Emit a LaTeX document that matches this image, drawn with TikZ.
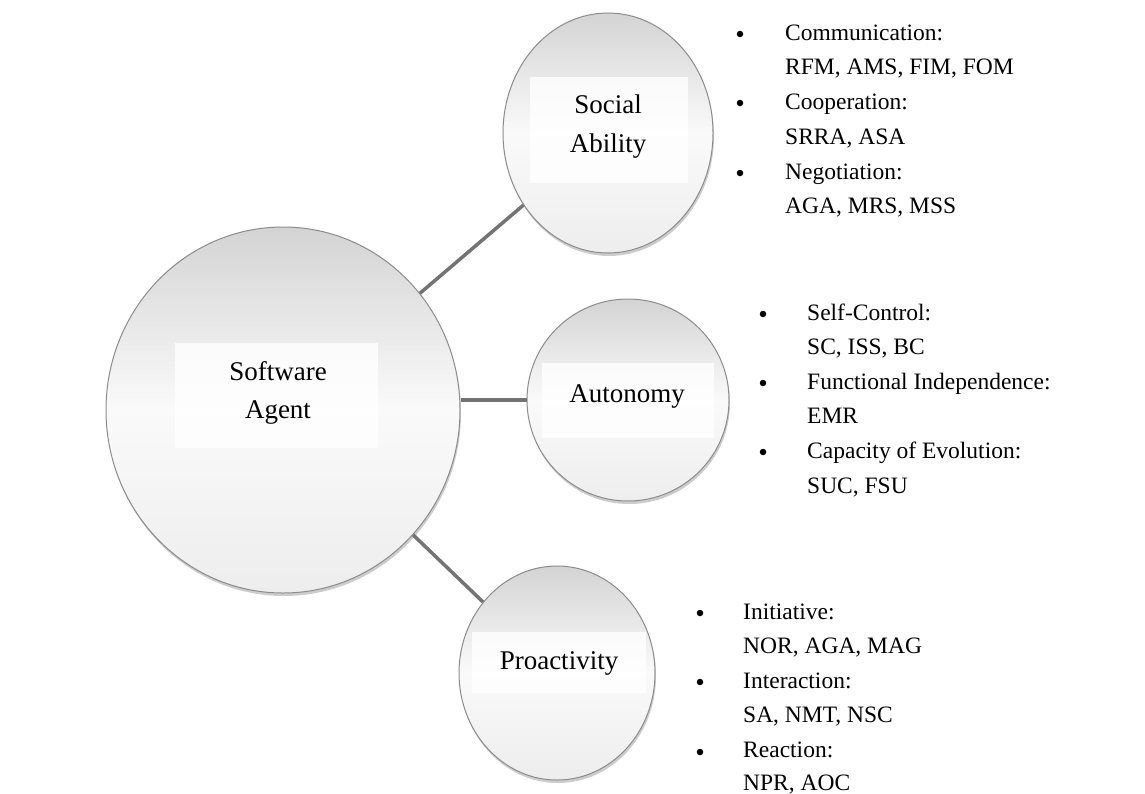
\documentclass[tikz,border=0pt]{standalone}
\usepackage{fontspec}
\setmainfont{Liberation Serif}
\usetikzlibrary{shapes.geometric,shadows,calc}
\begin{document}
\begin{tikzpicture}[x=1pt,y=-1pt,
  bubble/.style={ellipse, draw=black!45, line width=1pt, top color=black!17, bottom color=black!7, middle color=black!2, drop shadow={opacity=0.4, shadow xshift=1pt, shadow yshift=-3pt}, inner sep=0pt},
  labelbox/.style={rectangle, fill=white, fill opacity=0.8, inner sep=0pt},
  lbl/.style={anchor=base, font=\fontsize{27}{32}\selectfont, inner sep=0pt},
  link/.style={line width=3.5pt, draw=black!55},
  item/.style={anchor=base west, font=\fontsize{23.5}{28}\selectfont, inner sep=0pt},
  dot/.style={circle, fill=black, inner sep=0pt, minimum size=6.5pt}
]
\useasboundingbox (0,0) rectangle (1145,793);
\fill[white] (0,0) rectangle (1145,793);

% bubbles
\node[bubble, minimum width=354pt, minimum height=366pt] (sa) at (283,410) {};
\node[bubble, minimum width=210pt, minimum height=240pt] (soc) at (608,133) {};
\node[bubble, minimum width=202pt, minimum height=202pt] (aut) at (628,400) {};
\node[bubble, minimum width=196pt, minimum height=214pt] (pro) at (557,673) {};

% connectors
\draw[link] (sa) -- (soc);
\draw[link] (aut.west) -- (aut.west -| sa.east);
\draw[link] (sa) -- (pro);

% label boxes
\node[labelbox, minimum width=203pt, minimum height=105pt] (sabox) at (276,395) {};
\node[labelbox, minimum width=158pt, minimum height=106pt] (socbox) at (609,130) {};
\node[labelbox, minimum width=172pt, minimum height=75pt] (autbox) at (628,400) {};
\node[labelbox, minimum width=174pt, minimum height=61pt] (probox) at (559,662) {};

% labels
\node[lbl] (sa1) at (278,380) {Software};
\node[lbl] (sa2) at (278,418) {Agent};
\node[lbl] (soc1) at (608,113) {Social};
\node[lbl] (soc2) at (608,152) {Ability};
\node[lbl] (aut1) at (627,402) {Autonomy};
\node[lbl] (pro1) at (559,669) {Proactivity};

% social ability list
\node[dot] (b1) at (740,34) {};
\node[item] (t1) at (785,40) {Communication:};
\node[item] (t2) at (785,74.6) {RFM, AMS, FIM, FOM};
\node[dot] (b2) at (740,103) {};
\node[item] (t3) at (785,109.8) {Cooperation:};
\node[item] (t4) at (785,144.4) {SRRA, ASA};
\node[dot] (b3) at (740,173) {};
\node[item] (t5) at (785,179) {Negotiation:};
\node[item] (t6) at (785,213.6) {AGA, MRS, MSS};

% autonomy list
\node[dot] (b4) at (763,314) {};
\node[item] (u1) at (807,320) {Self-Control:};
\node[item] (u2) at (807,354.6) {SC, ISS, BC};
\node[dot] (b5) at (763,383) {};
\node[item] (u3) at (807,389.2) {Functional Independence:};
\node[item] (u4) at (807,423.8) {EMR};
\node[dot] (b6) at (763,452) {};
\node[item] (u5) at (807,458.4) {Capacity of Evolution:};
\node[item] (u6) at (807,493) {SUC, FSU};

% proactivity list
\node[dot] (b7) at (700,613) {};
\node[item] (p1) at (743,619) {Initiative:};
\node[item] (p2) at (743,653.6) {NOR, AGA, MAG};
\node[dot] (b8) at (700,682) {};
\node[item] (p3) at (743,688.2) {Interaction:};
\node[item] (p4) at (743,722.8) {SA, NMT, NSC};
\node[dot] (b9) at (700,752) {};
\node[item] (p5) at (743,757.4) {Reaction:};
\node[item] (p6) at (743,790) {NPR, AOC};
\end{tikzpicture}
\end{document}
